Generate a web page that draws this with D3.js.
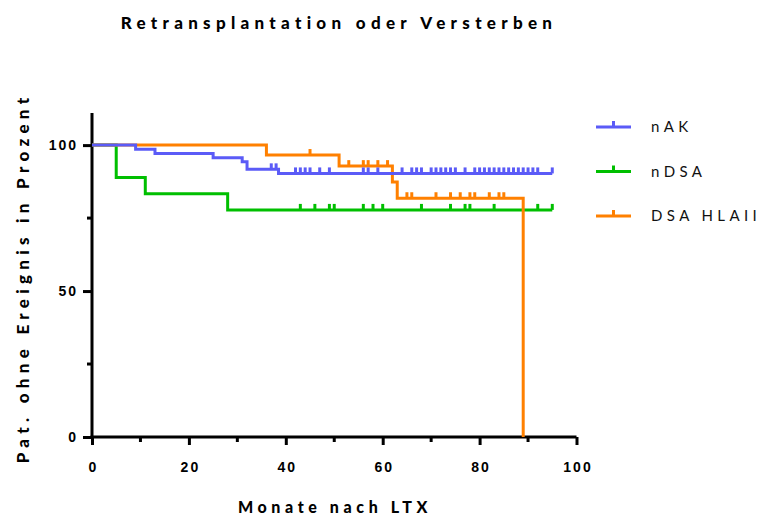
<!DOCTYPE html>
<html>
<head>
<meta charset="utf-8">
<script src="https://cdn.jsdelivr.net/npm/d3@7"></script>
<style>
  body { margin: 0; background: #fff; }
  svg { display: block; font-family: Lato, "Open Sans", sans-serif; }
  .axis path, .axis line { stroke: #000; stroke-width: 3; }
  .axis text { font-weight: 900; font-size: 14px; letter-spacing: 2px; fill: #000; }
</style>
</head>
<body>
<svg width="773" height="517"></svg>
<script>
// series: event times (months) and survival (%) right after each event
const seriesNames = ['nAK', 'nDSA', 'DSA HLAII'];
const seriesColors = ['#5b5bf7', '#00bf00', '#ff8000'];

const nakTimes = [9, 13, 25, 31, 32, 38.5];
const nakSurv = [98.6, 97.1, 95.7, 94.3, 91.7, 90.3];
const nakCens = [37, 38, 42, 43, 44, 45, 47, 49, 56, 57, 59, 64, 66, 67, 68, 70, 71, 72, 73, 74, 75, 77, 79, 80, 81, 82, 83, 84, 85, 86, 87, 88, 89, 90, 91, 92, 95];
const nakEnd = 95;

const ndsaTimes = [5, 11, 28];
const ndsaSurv = [88.9, 83.3, 77.8];
const ndsaCens = [43, 46, 49, 50, 56, 58, 60, 68, 74, 77, 78, 83, 92, 95];
const ndsaEnd = 95;

const dsaTimes = [36, 51, 62, 63, 89];
const dsaSurv = [96.6, 92.8, 87.4, 81.8, 0];
const dsaCens = [45, 53, 56, 57, 59, 61, 65, 66, 71, 74, 76, 78, 79, 82, 84, 85];
const dsaEnd = 89;

const xMajor = [0, 20, 40, 60, 80, 100];
const xMinor = [10, 30, 50, 70, 90];
const yMajor = [0, 50, 100];
const yMinor = [25, 75];

const svg = d3.select('svg');
const mLeft = 92, mTop = 113, plotW = 484.5, plotH = 324;

const x = d3.scaleLinear().domain([0, 100]).range([mLeft, mLeft + plotW]);
const y = d3.scaleLinear().domain([0, 111]).range([mTop + plotH, mTop]);

// title
svg.append('text')
   .attr('x', 339).attr('y', 29)
   .attr('text-anchor', 'middle')
   .style('font-weight', '900').style('font-size', '17px').style('letter-spacing', '5.3px')
   .text('Retransplantation oder Versterben');

// axes
const gx = svg.append('g').attr('class', 'axis')
  .attr('transform', `translate(0,${y(0)})`)
  .call(d3.axisBottom(x).tickValues(xMajor).tickSize(8).tickSizeOuter(0).tickPadding(17));
gx.append('g').selectAll('line').data(xMinor).join('line')
  .attr('x1', d => x(d)).attr('x2', d => x(d)).attr('y1', 0).attr('y2', 5);
gx.selectAll('.tick text').attr('dx', '1px');

const gy = svg.append('g').attr('class', 'axis')
  .attr('transform', `translate(${x(0)},0)`)
  .call(d3.axisLeft(y).tickValues(yMajor).tickSize(9).tickSizeOuter(0).tickPadding(5));
gy.append('g').selectAll('line').data(yMinor).join('line')
  .attr('y1', d => y(d)).attr('y2', d => y(d)).attr('x1', 0).attr('x2', -5);
gy.select('.domain').attr('d', `M0,${y(111)}V${y(0) + 1.5}`);
gx.select('.domain').attr('d', `M${x(0) - 1.5},0H${x(100)}`);

svg.append('text')
   .attr('x', 335).attr('y', 513)
   .attr('text-anchor', 'middle')
   .style('font-weight', '900').style('font-size', '16px').style('letter-spacing', '4.6px')
   .text('Monate nach LTX');

svg.append('text')
   .attr('transform', 'translate(29,278) rotate(-90)')
   .attr('text-anchor', 'middle')
   .style('font-weight', '900').style('font-size', '17px').style('letter-spacing', '5.3px')
   .text('Pat. ohne Ereignis in Prozent');

// Kaplan-Meier curves
const line = d3.line().curve(d3.curveStepAfter).x(d => x(d[0])).y(d => y(d[1]));

function survAt(times, surv, t) {
  let s = 100;
  times.forEach((tt, i) => { if (tt <= t) s = surv[i]; });
  return s;
}

const series = [
  { name: seriesNames[1], color: seriesColors[1], times: ndsaTimes, surv: ndsaSurv, cens: ndsaCens, end: ndsaEnd },
  { name: seriesNames[2], color: seriesColors[2], times: dsaTimes, surv: dsaSurv, cens: dsaCens, end: dsaEnd },
  { name: seriesNames[0], color: seriesColors[0], times: nakTimes, surv: nakSurv, cens: nakCens, end: nakEnd }
];

series.forEach(s => {
  const pts = [[0, 100]].concat(s.times.map((t, i) => [t, s.surv[i]]));
  if (s.end > s.times[s.times.length - 1]) pts.push([s.end, s.surv[s.surv.length - 1]]);
  const g = svg.append('g');
  g.append('path').datum(pts).attr('d', line)
   .attr('fill', 'none').attr('stroke', s.color).attr('stroke-width', 3);
  g.selectAll('line').data(s.cens).join('line')
   .attr('x1', d => x(d)).attr('x2', d => x(d))
   .attr('y1', d => y(survAt(s.times, s.surv, d)))
   .attr('y2', d => y(survAt(s.times, s.surv, d)) - 6)
   .attr('stroke', s.color).attr('stroke-width', 3);
});

// legend
const legend = svg.append('g');
const legY = [127, 171.5, 216];
seriesNames.forEach((name, i) => {
  const g = legend.append('g').attr('transform', `translate(596,${legY[i]})`);
  g.append('line').attr('x1', 0).attr('x2', 35).attr('y1', 0).attr('y2', 0)
   .attr('stroke', seriesColors[i]).attr('stroke-width', 3);
  g.append('line').attr('x1', 17.5).attr('x2', 17.5).attr('y1', 0).attr('y2', -6)
   .attr('stroke', seriesColors[i]).attr('stroke-width', 3);
  g.append('text').attr('x', 55).attr('y', 0).attr('dy', '0.36em')
   .style('font-size', '15px').style('letter-spacing', '4.4px').style('fill', '#111')
   .text(name);
});
</script>
</body>
</html>
